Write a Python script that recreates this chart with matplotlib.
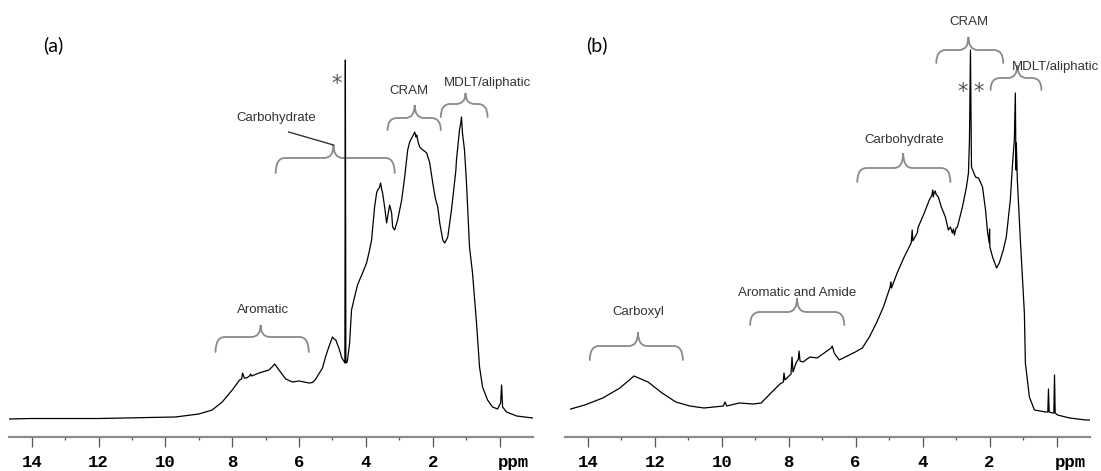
import matplotlib
matplotlib.use("Agg")
import matplotlib.pyplot as plt
from matplotlib.path import Path
from matplotlib.patches import PathPatch
from matplotlib.transforms import blended_transform_factory

# ---------------- data: panel (a) ----------------
ppm_a = [14.69, 14.0, 13.0, 12.0, 11.5, 10.5, 9.7, 9.0, 8.6, 8.3, 8.0, 7.78, 7.72, 7.69,
         7.64, 7.57, 7.48, 7.45, 7.42, 7.2, 6.9, 6.78, 6.73, 6.6, 6.4, 6.2, 6.0, 5.85,
         5.7, 5.6, 5.5, 5.3, 5.2, 5.1, 5.0, 4.95, 4.9, 4.8, 4.72, 4.66, 4.63, 4.615,
         4.60, 4.56, 4.49, 4.43, 4.34, 4.25, 4.19, 4.1, 3.98, 3.89, 3.83, 3.74, 3.68,
         3.65, 3.6, 3.56, 3.53, 3.5, 3.44, 3.38, 3.35, 3.29, 3.23, 3.2, 3.14, 3.05, 2.93,
         2.84, 2.75, 2.69, 2.63, 2.58, 2.54, 2.5, 2.48, 2.43, 2.39, 2.30, 2.25, 2.18,
         2.09, 2.0, 1.95, 1.91, 1.85, 1.79, 1.70, 1.64, 1.55, 1.44, 1.35, 1.31, 1.29, 1.26,
         1.20, 1.16, 1.14, 1.11, 1.05, 0.99, 0.90, 0.81, 0.69, 0.60, 0.51, 0.36, 0.21,
         0.06, -0.03, -0.06, -0.09, -0.21, -0.51, -0.99]
int_a = [0, 0.5, 0.5, 0.5, 0.8, 1.5, 2, 5, 9, 17, 29, 39, 40, 46,
         41, 41, 43, 45, 43, 46, 49, 53, 55, 49, 40, 37, 38, 37,
         36, 36.5, 40, 51, 63, 73, 82, 80, 79, 70, 61, 58, 56, 359,
         56, 57, 75, 109, 122, 134, 139, 146, 156, 169, 179, 212, 226,
         229, 231, 236, 230, 226, 212, 196, 202, 214, 206, 192, 189, 199, 219,
         242, 269, 277, 281, 284, 287, 282, 284, 276, 272, 269, 268, 266,
         256, 236, 226, 219, 212, 196, 179, 176, 182, 209, 236, 248, 259, 269,
         289, 296, 302, 286, 269, 236, 172, 146, 96, 52, 32, 19, 12,
         10, 16, 34, 12, 7, 3, 1]

# ---------------- data: panel (b) ----------------
ppm_b = [14.51, 14.09, 13.55, 13.04, 12.62, 12.2, 11.78, 11.37, 10.95, 10.53, 9.95, 9.9,
         9.85, 9.48, 9.06, 8.82, 8.53, 8.26, 8.16, 8.14, 8.11, 7.93, 7.9, 7.87, 7.78,
         7.71, 7.69, 7.66, 7.57, 7.45, 7.36, 7.15, 6.94, 6.73, 6.70, 6.64, 6.49, 6.31,
         6.01, 5.8, 5.59, 5.38, 5.17, 4.97, 4.95, 4.93, 4.76, 4.55, 4.34, 4.31, 4.29,
         4.16, 4.13, 3.95, 3.8, 3.72, 3.70, 3.68, 3.65, 3.62, 3.6, 3.53, 3.44, 3.32, 3.23,
         3.17, 3.11, 3.08, 3.05, 3.0, 2.96, 2.81, 2.69, 2.63, 2.6, 2.57, 2.54, 2.42,
         2.33, 2.21, 2.12, 2.06, 2.01, 2.0, 1.99, 1.91, 1.79, 1.71, 1.59, 1.5, 1.38,
         1.32, 1.26, 1.23, 1.21, 1.2, 1.17, 1.08, 0.96, 0.93, 0.81, 0.66, 0.33, 0.26,
         0.24, 0.22, 0.12, 0.08, 0.06, 0.04, -0.03, -0.39, -0.87, -1.0]
int_b = [10, 14, 21, 31, 43, 37, 26, 17, 13, 11, 13, 17,
         13, 16, 15, 16, 26, 35, 37, 46, 39, 45, 62, 47, 56,
         60, 68, 58, 57, 60, 62, 61, 66, 71, 73, 66, 59, 62,
         67, 71, 82, 96, 112, 132, 137, 131, 146, 162, 176, 189, 178,
         186, 192, 206, 219, 224, 229, 222, 227, 228, 225, 222, 212, 202, 189,
         192, 186, 190, 184, 191, 192, 212, 232, 246, 279, 369, 252, 242,
         241, 232, 209, 187, 176, 190, 172, 162, 151, 156, 169, 182, 219,
         252, 279, 326, 249, 276, 239, 179, 106, 56, 22, 9, 7, 7,
         30, 7, 6, 6, 44, 6, 4, 1, -1, -1]

major_ticks = [14, 12, 10, 8, 6, 4, 2, 0]
major_labels = ["14", "12", "10", "8", "6", "4", "2", ""]
minor_ticks = [13, 11, 9, 7, 5, 3, 1]

# label annotations: (text, label ppm, label y, brace left, brace right, tip ppm, y_end, y_flat, y_tip)
braces_a = [
    ("Aromatic", 7.09, 109, 8.50, 5.71, 7.15, 67, 82, 94),
    ("CRAM", 2.72, 328, 3.35, 1.76, 2.54, 289, 301, 314),
    ("MDLT/aliphatic", 0.36, 336, 1.76, 0.36, 1.02, 302, 315, 326),
]
braces_b = [
    ("Carboxyl", 12.5, 107, 13.94, 11.16, 12.5, 59, 73, 87),
    ("Aromatic and Amide", 7.75, 126, 9.15, 6.34, 7.75, 94, 107, 121),
    ("Carbohydrate", 4.55, 279, 5.95, 3.17, 4.58, 237, 251, 266),
    ("CRAM", 2.63, 397, 3.59, 1.59, 2.63, 356, 369, 382),
    ("MDLT/aliphatic", 0.03, 352, 1.97, 0.45, 1.17, 329, 341, 354),
]


def draw_brace(ax, left, right, tip, y_end, y_flat, y_tip, color="#8a8a8a"):
    r = 0.28
    verts = [
        (left, y_end),
        (left, y_flat), (left - r, y_flat),
        (tip + r, y_flat),
        (tip, y_flat), (tip, y_tip),
        (tip, y_flat), (tip - r, y_flat),
        (right + r, y_flat),
        (right, y_flat), (right, y_end),
    ]
    codes = [Path.MOVETO,
             Path.CURVE3, Path.CURVE3,
             Path.LINETO,
             Path.CURVE3, Path.CURVE3,
             Path.CURVE3, Path.CURVE3,
             Path.LINETO,
             Path.CURVE3, Path.CURVE3]
    ax.add_patch(PathPatch(Path(verts, codes), fill=False, edgecolor=color, lw=1.3,
                           capstyle="round"))


def setup_axis(ax):
    ax.set_xlim(14.68, -1.0)
    ax.set_ylim(-18, 419)
    for s in ["top", "left", "right"]:
        ax.spines[s].set_visible(False)
    ax.spines["bottom"].set_color("#8c8c8c")
    ax.spines["bottom"].set_linewidth(1.6)
    ax.set_yticks([])
    ax.set_xticks(major_ticks)
    ax.set_xticklabels(major_labels, fontfamily="Liberation Mono", fontweight="bold",
                       fontsize=12.5)
    ax.set_xticks(minor_ticks, minor=True)
    ax.tick_params(axis="x", which="major", direction="out", length=7, width=0.9,
                   color="#555555", pad=6)
    ax.tick_params(axis="x", which="minor", direction="out", length=2.5, width=0.9,
                   color="#555555")
    ax.annotate("ppm", xy=(-0.42, 0), xycoords=blended_transform_factory(ax.transData, ax.transAxes),
                xytext=(0, -13), textcoords="offset points", ha="center", va="top",
                fontfamily="Liberation Mono", fontweight="bold", fontsize=12.5)


fig = plt.figure(figsize=(11.01, 4.71), dpi=100)
bottom = (471 - 437) / 471
height = 437 / 471
ax1 = fig.add_axes([9 / 1101, bottom, 524 / 1101, height])
ax2 = fig.add_axes([565 / 1101, bottom, 525 / 1101, height])

for ax in (ax1, ax2):
    setup_axis(ax)

ax1.plot(ppm_a, int_a, color="black", lw=0.9)
ax2.plot(ppm_b, int_b, color="black", lw=0.9)

label_kw = dict(fontfamily="Liberation Sans", fontsize=9.5, color="#333333",
                ha="center", va="center")

for (txt, lx, ly, bl, br, bt, ye, yf, yt) in braces_a:
    draw_brace(ax1, bl, br, bt, ye, yf, yt)
    ax1.text(lx, ly, txt, **label_kw)
for (txt, lx, ly, bl, br, bt, ye, yf, yt) in braces_b:
    draw_brace(ax2, bl, br, bt, ye, yf, yt)
    ax2.text(lx, ly, txt, **label_kw)

# carbohydrate in (a) with leader line
draw_brace(ax1, 6.70, 3.14, 4.97, 246, 261, 274)
ax1.text(6.67, 301, "Carbohydrate", **label_kw)
ax1.plot([6.31, 4.97], [287, 274], color="#333333", lw=1.0)

# asterisks
star_kw = dict(fontfamily="DejaVu Sans", fontsize=15, color="#555555",
               ha="center", va="center")
ax1.text(4.88, 335, "*", **star_kw)
ax2.text(2.81, 327, "*", **star_kw)
ax2.text(2.33, 327, "*", **star_kw)

# panel labels
ax1.text(13.37, 374, "(a)", fontfamily="Lato", fontsize=14, ha="center", va="center")
ax2.text(13.73, 374, "(b)", fontfamily="Lato", fontsize=14, ha="center", va="center")

fig.savefig("out.png", dpi=100)
